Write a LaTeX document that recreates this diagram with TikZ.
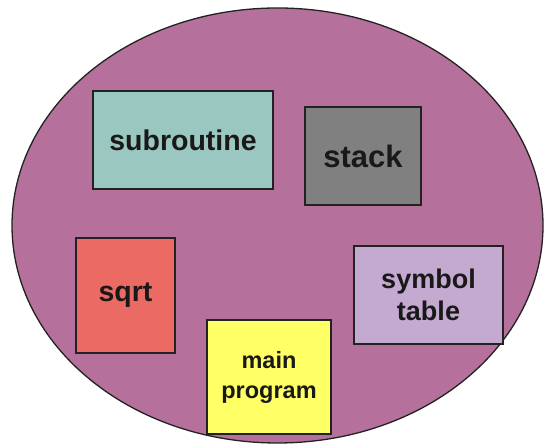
\documentclass[tikz,border=0pt]{standalone}
\usepackage{fontspec}
\setmainfont{Liberation Sans}
\usetikzlibrary{shapes.geometric}
\definecolor{memfill}{HTML}{B5719B}
\definecolor{subfill}{HTML}{9BC7C1}
\definecolor{stackfill}{HTML}{808080}
\definecolor{sqrtfill}{HTML}{EB6A63}
\definecolor{mainfill}{HTML}{FFFF66}
\definecolor{symfill}{HTML}{C4A9D0}
\definecolor{edge}{HTML}{222222}
\begin{document}
\begin{tikzpicture}[x=1pt,y=1pt,
  memblock/.style={draw=edge, line width=1.3pt, inner sep=0pt, align=center,
    font=\bfseries, text=black!90}]
  \useasboundingbox (0,0) rectangle (544,446);
  % global memory region
  \node[draw=edge, line width=1.3pt, fill=memfill, ellipse, inner sep=0pt,
        minimum width=531pt, minimum height=435pt] (memory) at (277.5,220.5) {};
  % blocks held in memory
  \node[memblock, fill=subfill, minimum width=180pt, minimum height=98pt,
        font=\bfseries\fontsize{28.5}{30}\selectfont] (sub) at (183,306) {subroutine};
  \node[memblock, fill=stackfill, minimum width=116pt, minimum height=98pt,
        font=\bfseries\fontsize{31}{33}\selectfont] (stack) at (363,290) {stack};
  \node[memblock, fill=sqrtfill, minimum width=99pt, minimum height=115pt,
        font=\bfseries\fontsize{28.5}{30}\selectfont] (sqrt) at (125.5,150.5) {sqrt};
  \node[memblock, fill=mainfill, minimum width=124pt, minimum height=114pt,
        font=\bfseries\fontsize{23.5}{30}\selectfont] (main) at (269,69) {main\\program};
  \node[memblock, fill=symfill, minimum width=149pt, minimum height=98pt,
        font=\bfseries\fontsize{27}{32}\selectfont] (sym) at (428.5,151) {symbol\\table};
\end{tikzpicture}
\end{document}
